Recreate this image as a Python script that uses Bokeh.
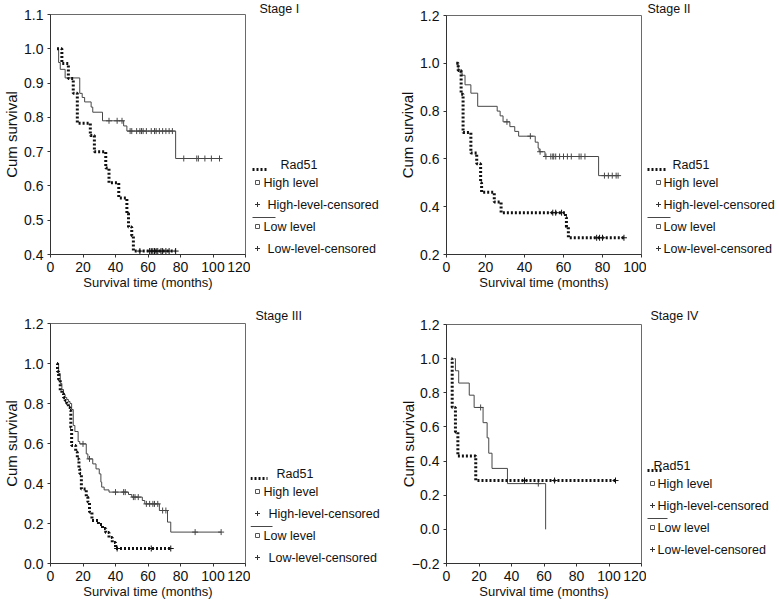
import numpy as np
from bokeh.plotting import figure
from bokeh.models import Range1d, FixedTicker
from bokeh.layouts import row, column
from bokeh.embed import file_html
from bokeh.resources import INLINE
from bokeh.core.properties import value

FONT = "Liberation Sans"

# ---------------- data ----------------
stage_titles = ["Stage I", "Stage II", "Stage III", "Stage IV"]
legend_title = "Rad51"
legend_labels = ["High level", "High-level-censored", "Low level", "Low-level-censored"]
x_label = "Survival time (months)"
y_label = "Cum survival"

# Stage I
s1_high_t = [4, 7, 11, 14, 16.5, 24.5, 27, 34, 36, 42, 47, 48, 50, 51]
s1_high_s = [1.0, 0.957, 0.913, 0.87, 0.783, 0.747, 0.70, 0.652, 0.609, 0.565, 0.52, 0.48, 0.455, 0.41]
s1_high_c = [55, 61, 62, 63, 64, 65, 66, 68, 69, 71, 73, 77]
s1_low_t = [4, 5, 6, 9, 18, 19.5, 21, 25, 26, 32, 45, 47, 77]
s1_low_s = [1.0, 0.96, 0.94, 0.915, 0.87, 0.858, 0.845, 0.83, 0.815, 0.79, 0.775, 0.76, 0.68]
s1_low_c = [36, 41, 44, 49, 50, 53, 55, 56, 57, 59, 62, 64, 65, 67, 69, 71, 73, 75,
            82, 90, 91, 95, 99, 104]

# Stage II
s2_high_t = [5, 6, 7.5, 8.5, 12.5, 15.5, 17.5, 18, 24.5, 28, 61, 61.5, 62.5]
s2_high_s = [1.0, 0.97, 0.87, 0.71, 0.625, 0.58, 0.50, 0.46, 0.42, 0.375, 0.355, 0.315, 0.27]
s2_high_c = [54.5, 56, 59, 77, 78.5, 80, 91]
s2_low_t = [5.3, 6, 7, 8, 9.5, 12.5, 16, 26, 27.5, 29, 32.5, 35, 37, 45.5, 47, 47.5, 50.5, 78]
s2_low_s = [1.0, 0.975, 0.96, 0.95, 0.91, 0.875, 0.82, 0.80, 0.78, 0.755, 0.735, 0.715,
            0.695, 0.67, 0.645, 0.63, 0.61, 0.53]
s2_low_c = [31, 43, 48, 51, 53.5, 54.5, 55, 56, 58, 60, 62, 64, 68, 69, 71, 81, 83, 85, 87, 88]

# Stage III
s3_high_t = [4, 4.3, 5, 6, 7, 8, 9, 10, 11, 12, 12.5, 13, 15.5, 16.5, 17.5, 18, 19, 22, 23,
             24, 25.5, 29.5, 32, 34, 36, 38, 40]
s3_high_s = [1.0, 0.96, 0.92, 0.865, 0.85, 0.83, 0.815, 0.80, 0.78, 0.765, 0.68, 0.59, 0.557,
             0.523, 0.473, 0.45, 0.373, 0.332, 0.307, 0.257, 0.215, 0.195, 0.175, 0.155,
             0.13, 0.105, 0.075]
s3_high_c = [41, 62, 74]
s3_low_t = [4, 5, 6, 7, 8, 9, 10, 11, 12, 13, 14, 15, 17, 18, 22, 23, 26, 28, 30, 31, 31.5,
            33, 36, 48, 50, 56.5, 58, 67, 72, 74]
s3_low_s = [1.0, 0.95, 0.90, 0.87, 0.845, 0.83, 0.82, 0.81, 0.80, 0.77, 0.69, 0.66, 0.61,
            0.598, 0.548, 0.523, 0.498, 0.473, 0.448, 0.407, 0.382, 0.368, 0.357, 0.345,
            0.332, 0.315, 0.298, 0.265, 0.207, 0.157]
s3_low_c = [20, 24, 40, 45, 46, 51, 52, 54, 59, 61, 63, 64, 66, 69, 71, 89, 105]

# Stage IV
s4_high_t = [3, 3.5, 5.5, 7, 18]
s4_high_s = [1.0, 0.714, 0.571, 0.429, 0.286]
s4_high_c = [48, 66.5, 104]
s4_low_t = [5, 5.5, 7.5, 14, 17, 22.5, 25, 26, 28, 37.5, 61]
s4_low_s = [1.0, 0.929, 0.857, 0.786, 0.714, 0.625, 0.536, 0.446, 0.357, 0.268, 0.0]
s4_low_c = [21, 56.5]

# axes
x_ticks_120 = [0, 20, 40, 60, 80, 100, 120]
x_ticks_100 = [0, 20, 40, 60, 80, 100]
y_ticks_s1 = [0.4, 0.5, 0.6, 0.7, 0.8, 0.9, 1.0, 1.1]
y_ticks_s2 = [0.2, 0.4, 0.6, 0.8, 1.0, 1.2]
y_ticks_s3 = [0.0, 0.2, 0.4, 0.6, 0.8, 1.0, 1.2]
y_ticks_s4 = [-0.2, 0.0, 0.2, 0.4, 0.6, 0.8, 1.0, 1.2]
y_labels_s4 = ["\u22120.2", "0.0", "0.2", "0.4", "0.6", "0.8", "1.0", "1.2"]

HIGH_COLOR = "#111111"
LOW_COLOR = "#474747"
TXT = "#111111"


def km_path(t, s, cens):
    t = list(t)
    s = list(s)
    end = max(cens) if cens else t[-1]
    if end > t[-1]:
        t.append(end)
        s.append(s[-1])
    return t, s


def surv_at(t, s, cens):
    idx = np.searchsorted(np.asarray(t, float), np.asarray(cens, float), side="right") - 1
    return list(np.asarray(s, float)[idx])


def make_plot(w, h, xr, yr, xt, yt, ytl, borders, high, low, ylab_standoff=1):
    bl, br, bt, bb = borders
    p = figure(width=w, height=h, x_range=Range1d(*xr), y_range=Range1d(*yr), title=None,
               toolbar_location=None, output_backend="svg",
               min_border_left=bl, min_border_right=br, min_border_top=bt, min_border_bottom=bb)
    p.frame_align = False
    p.grid.visible = False
    p.background_fill_color = "white"
    p.border_fill_color = "white"
    p.outline_line_color = "#6a6a6a"
    p.outline_line_width = 1

    p.xaxis.ticker = FixedTicker(ticks=xt)
    p.xaxis.major_label_overrides = {v: str(v) for v in xt}
    p.yaxis.ticker = FixedTicker(ticks=yt)
    p.yaxis.major_label_overrides = dict(zip(yt, ytl))
    for ax in (p.xaxis, p.yaxis):
        ax.axis_line_color = "#333333"
        ax.major_tick_line_color = "#333333"
        ax.major_tick_out = 3
        ax.major_tick_in = 0
        ax.minor_tick_out = 0
        ax.minor_tick_in = 0
        ax.major_label_text_font = FONT
        ax.major_label_text_font_size = "14px"
        ax.major_label_text_color = TXT
        ax.axis_label_text_font = FONT
        ax.axis_label_text_font_style = "normal"
        ax.axis_label_text_color = TXT
    p.xaxis.axis_label = x_label
    p.xaxis.axis_label_text_font_size = "13px"
    p.xaxis.major_label_standoff = 4
    p.xaxis.axis_label_standoff = 0
    p.yaxis.axis_label = y_label
    p.yaxis.axis_label_text_font_size = "15px"
    p.yaxis.major_label_standoff = 4
    p.yaxis.axis_label_standoff = ylab_standoff

    # low level: thin solid line
    lt, ls, lc = low
    px, py = km_path(lt, ls, lc)
    p.step(px, py, mode="after", line_color=LOW_COLOR, line_width=1)
    if lc:
        p.scatter(lc, surv_at(lt, ls, lc), marker="cross", size=6, line_color=LOW_COLOR,
                  line_width=1)
    # high level: thick dotted line
    ht, hs, hc = high
    px, py = km_path(ht, hs, hc)
    p.step(px, py, mode="after", line_color=HIGH_COLOR, line_width=3, line_dash="2 2")
    if hc:
        p.scatter(hc, surv_at(ht, hs, hc), marker="cross", size=6, line_color=HIGH_COLOR,
                  line_width=1)
    return p


def make_legend(w, h, ox, oy, title, title_xy, base_y, rad_x, dot_x, sol_x, sym_x, txt_x):
    lg = figure(width=w, height=h, x_range=Range1d(0, w), y_range=Range1d(h, 0), title=None,
                toolbar_location=None, output_backend="svg", x_axis_location=None,
                y_axis_location=None, min_border_left=0, min_border_right=0,
                min_border_top=0, min_border_bottom=0)
    lg.frame_align = False
    lg.grid.visible = False
    lg.outline_line_color = None
    lg.background_fill_color = "white"
    lg.border_fill_color = "white"
    fs = "12.5px"
    lg.text(x=[title_xy[0] - ox], y=[title_xy[1] - oy], text=[title], text_font=value(FONT),
            text_font_size=fs, text_baseline="middle", text_align="left", text_color=TXT)
    y0 = base_y - oy
    lg.text(x=[rad_x - ox], y=[y0], text=[legend_title], text_font=value(FONT),
            text_font_size=fs, text_baseline="middle", text_align="left", text_color=TXT)
    # sample lines
    lg.line([dot_x[0] - ox, dot_x[1] - ox], [y0 + 5, y0 + 5], line_color=HIGH_COLOR,
            line_width=3, line_dash="2 2")
    lg.line([sol_x[0] - ox, sol_x[1] - ox], [y0 + 53, y0 + 53], line_color=LOW_COLOR,
            line_width=1)
    rows_y = [y0 + 18, y0 + 40, y0 + 62, y0 + 84]
    # symbols
    lg.scatter([sym_x - ox, sym_x - ox], [rows_y[0], rows_y[2]], marker="square", size=4,
               fill_color="white", line_color="#555555", line_width=1)
    lg.scatter([sym_x - ox, sym_x - ox], [rows_y[1], rows_y[3]], marker="cross", size=5,
               line_color="#333333", line_width=1)
    xs = [txt_x[0] - ox, txt_x[1] - ox, txt_x[0] - ox, txt_x[1] - ox]
    lg.text(x=xs, y=rows_y, text=legend_labels, text_font=value(FONT), text_font_size=fs,
            text_baseline="middle", text_align="left", text_color=TXT)
    return lg


H1, H2 = 309, 292

p1 = make_plot(250, H1, (0, 120), (0.4, 1.1), x_ticks_120, y_ticks_s1,
               ["%.1f" % v for v in y_ticks_s1], (45, 5, 14, 55),
               (s1_high_t, s1_high_s, s1_high_c), (s1_low_t, s1_low_s, s1_low_c))
l1 = make_legend(146, H1, 250, 0, stage_titles[0], (259, 8), 164, 280, (252, 268), (252, 275),
                 257, (263, 267))
p2 = make_plot(250, H1, (0, 100), (0.2, 1.2), x_ticks_100, y_ticks_s2,
               ["%.1f" % v for v in y_ticks_s2], (45, 5, 15, 55),
               (s2_high_t, s2_high_s, s2_high_c), (s2_low_t, s2_low_s, s2_low_c))
l2 = make_legend(133, H1, 646, 0, stage_titles[1], (647, 8), 164, 672, (647, 665), (647, 670),
                 658, (663, 663))

p3 = make_plot(250, H2, (0, 120), (0.0, 1.2), x_ticks_120, y_ticks_s3,
               ["%.1f" % v for v in y_ticks_s3], (45, 5, 14, 38),
               (s3_high_t, s3_high_s, s3_high_c), (s3_low_t, s3_low_s, s3_low_c))
l3 = make_legend(146, H2, 250, 309, stage_titles[2], (255, 315), 473, 276, (250, 267),
                 (250, 272), 257, (263, 268))
p4 = make_plot(250, H2, (0, 120), (-0.2, 1.2), x_ticks_120, y_ticks_s4, y_labels_s4,
               (45, 5, 15, 38),
               (s4_high_t, s4_high_s, s4_high_c), (s4_low_t, s4_low_s, s4_low_c),
               ylab_standoff=-8)
l4 = make_legend(133, H2, 646, 309, stage_titles[3], (650, 315), 465, 653, (647, 663),
                 (647, 667), 652, (657, 657))

layout = column(row(p1, l1, p2, l2), row(p3, l3, p4, l4))

open("out.html", "w").write(file_html(layout, INLINE))
